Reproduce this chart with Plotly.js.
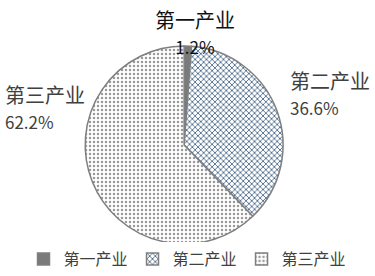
<!DOCTYPE html>
<html><head><meta charset="utf-8">
<script src="https://cdn.plot.ly/plotly-3.0.1.min.js"></script>
<style>html,body{margin:0;padding:0;background:#fff}#chart{width:375px;height:276px}</style>
</head><body><div id="chart"></div>
<script>
const categories = ["第一产业", "第二产业", "第三产业"];
const shares = [1.2, 36.6, 62.2];
const valueLabels = ["1.2%", "36.6%", "62.2%"];

const font = "Noto Sans CJK SC, sans-serif";
const trace = {
  type: "pie",
  labels: categories,
  values: shares,
  sort: false,
  direction: "clockwise",
  rotation: 0,
  textinfo: "none",
  hoverinfo: "label+percent",
  domain: {x: [0.222, 0.76], y: [0.10, 0.83]},
  marker: {
    colors: ["#7a7a7a", "#ffffff", "#ffffff"],
    line: {color: "#7f7f7f", width: 1.5},
    pattern: {
      shape: ["", "x", "."],
      fgcolor: ["#7a7a7a", "#4d6b8c", "#9a9a9a"],
      bgcolor: ["#7a7a7a", "#ffffff", "#ffffff"],
      size: [6, 4, 4],
      solidity: [0.3, 0.4, 0.3],
      fillmode: "replace"
    }
  }
};

const annPos = [
  {x: 195, y: 33, xanchor: "center", align: "center", color: "#111"},
  {x: 289, y: 95, xanchor: "left", align: "left", color: "#404040"},
  {x: 4, y: 109, xanchor: "left", align: "left", color: "#404040"}
];
const annotations = categories.map((c, i) => ({
  text: c + "<br><span style=\"font-size:17px\">" + valueLabels[i] + "</span>",
  xref: "paper", yref: "paper", x: annPos[i].x/375, y: 1 - annPos[i].y/276,
  xanchor: annPos[i].xanchor, yanchor: "middle", align: annPos[i].align, showarrow: false,
  borderpad: 0,
  font: {family: font, size: 20, color: annPos[i].color}
}));

const layout = {
  width: 375, height: 276,
  margin: {l: 0, r: 0, t: 0, b: 0},
  paper_bgcolor: "#fff",
  showlegend: true,
  legend: {orientation: "h", x: 0.5, xanchor: "center", y: -0.02, yanchor: "bottom",
    font: {family: font, size: 16, color: "#404040"}, itemwidth: 30},
  annotations: annotations
};
Plotly.newPlot("chart", [trace], layout, {displayModeBar: false, staticPlot: true});
</script></body></html>
